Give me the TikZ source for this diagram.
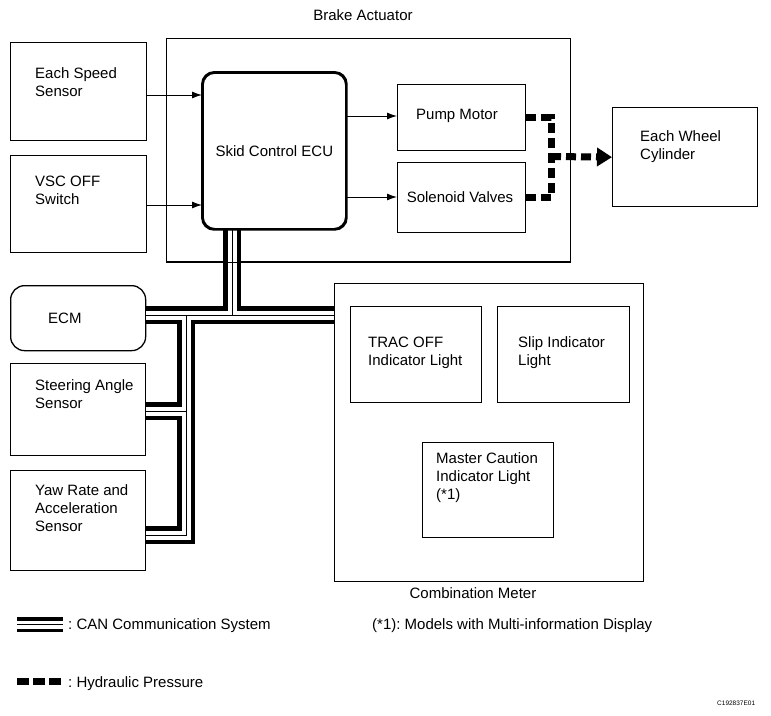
\documentclass[tikz,border=0pt]{standalone}
\usepackage{fontspec}
\setmainfont{Liberation Sans}
\usetikzlibrary{arrows.meta}
\frenchspacing
\begin{document}
\begin{tikzpicture}[x=1pt,y=-1pt,
  box/.style={draw, line width=1.3pt, inner sep=0pt, anchor=north west},
  txt/.style={inner sep=0pt, anchor=north west, align=left, font=\fontsize{15}{18}\selectfont},
  ctxt/.style={inner sep=0pt, font=\fontsize{15}{18}\selectfont},
  arr/.style={line width=1pt, -{Latex[length=10pt,width=7pt]}},
  hyd/.style={line width=7pt, dash pattern=on 10pt off 5pt},
  canout/.style={line width=18pt, line join=miter},
  canin/.style={line width=9pt, white, line join=miter},
  canmid/.style={line width=1pt, line join=miter}]
\useasboundingbox (0,0) rectangle (771,715);

% boxes (positions)
\node[box, minimum width=136pt, minimum height=98pt] (ess) at (10,42) {};
\node[box, minimum width=136pt, minimum height=97pt] (vsc) at (10,155) {};
\node[box, minimum width=404pt, minimum height=223pt] (ba) at (166,38) {};
\node[box, line width=1.8pt, rounded corners=12pt, minimum width=143pt, minimum height=156pt] (ecu) at (202,72) {};
\node[box, minimum width=128pt, minimum height=66pt] (pump) at (397,84) {};
\node[box, minimum width=128pt, minimum height=70pt] (sol) at (397,162) {};
\node[box, minimum width=145pt, minimum height=99pt] (ewc) at (612,107) {};
\node[box, rounded corners=14pt, minimum width=135pt, minimum height=65pt] (ecm) at (10,285) {};
\node[box, minimum width=135pt, minimum height=92pt] (sas) at (10,363) {};
\node[box, minimum width=135pt, minimum height=100pt] (yaw) at (10,470) {};
\node[box, minimum width=309pt, minimum height=298pt] (cm) at (334,283) {};
\node[box, minimum width=131pt, minimum height=96pt] (trac) at (350,306) {};
\node[box, minimum width=132pt, minimum height=96pt] (slip) at (497,306) {};
\node[box, minimum width=131pt, minimum height=95pt] (mc) at (422,442) {};

% CAN bus
\coordinate (cx1) at (232,315);
\coordinate (cb) at (186,315);
\coordinate (cs) at (186,411);
\coordinate (cy) at (186,535);
\coordinate (lg1) at (17,624.5);
\coordinate (lg2) at (63,624.5);
\foreach \s in {canout,canin,canmid} {
  \draw[\s] (ecu.south -| cx1) -- (cx1);
  \draw[\s] (ecm.east |- cx1) -- (cm.west |- cx1);
  \draw[\s] (cb) -- (cy) -- (yaw.east |- cy);
  \draw[\s] (cs) -- (sas.east |- cs);
}
\draw[line width=15pt] (lg1) -- (lg2);
\draw[line width=8pt, white] (lg1) -- (lg2);
\draw[line width=1pt] (lg1) -- (lg2);

% redraw boxes touched by CAN bus on top
\draw[line width=1.3pt] (ba.south west) -- (ba.south east);
\draw[line width=1.8pt, rounded corners=12pt] (ecu.north west) rectangle (ecu.south east);

% texts
\node[ctxt] (tba) at (363,15) {Brake Actuator};
\node[txt] (tess) at (35,67.8) {Each Speed\\Sensor};
\node[txt] (tvsc) at (35,175.8) {VSC OFF\\Switch};
\node[ctxt] (tecu) at (ecu.center) {Skid Control ECU};
\node[ctxt] (tpump) at (457,116) {Pump Motor};
\node[ctxt] (tsol) at (460,197) {Solenoid Valves};
\node[txt] (tewc) at (640,130.8) {Each Wheel\\Cylinder};
\node[txt] (tecm) at (48,312.8) {ECM};
\node[txt] (tsas) at (35,379.8) {Steering Angle\\Sensor};
\node[txt] (tyaw) at (35,484.8) {Yaw Rate and\\Acceleration\\Sensor};
\node[txt] (ttrac) at (368,336.8) {TRAC OFF\\Indicator Light};
\node[txt] (tslip) at (518,336.8) {Slip Indicator\\Light};
\node[txt] (tmc) at (436,452.8) {Master Caution\\Indicator Light\\(*1)};
\node[ctxt] (tcm) at (473,593) {Combination Meter};

% arrows
\coordinate (a1) at (0,95);
\coordinate (a2) at (0,205);
\coordinate (a3) at (0,116);
\coordinate (a4) at (0,197);
\draw[arr] (ess.east |- a1) -- (ecu.west |- a1);
\draw[arr] (vsc.east |- a2) -- (ecu.west |- a2);
\draw[arr] (ecu.east |- a3) -- (pump.west |- a3);
\draw[arr] (ecu.east |- a4) -- (sol.west |- a4);

% hydraulic
\coordinate (hj) at (551,156.5);
\draw[hyd] (pump.east) -| (hj) |- (sol.east);
\draw[hyd, -{Triangle[length=15pt,width=18pt]}] (hj) -- (ewc.west);

% legend
\draw[line width=7pt, dash pattern=on 12pt off 4pt] (17,681) -- (62,681);
\node[ctxt, anchor=base west] (lcan) at (68,629.5) {: CAN Communication System};
\node[ctxt, anchor=base west] (lnote) at (372,629.5) {(*1): Models with Multi-information Display};
\node[ctxt, anchor=base west] (lhyd) at (68,687) {: Hydraulic Pressure};
\node[inner sep=0pt, anchor=base west, font=\fontsize{6.5}{8}\selectfont] (code) at (717,705) {C192837E01};
\end{tikzpicture}
\end{document}
